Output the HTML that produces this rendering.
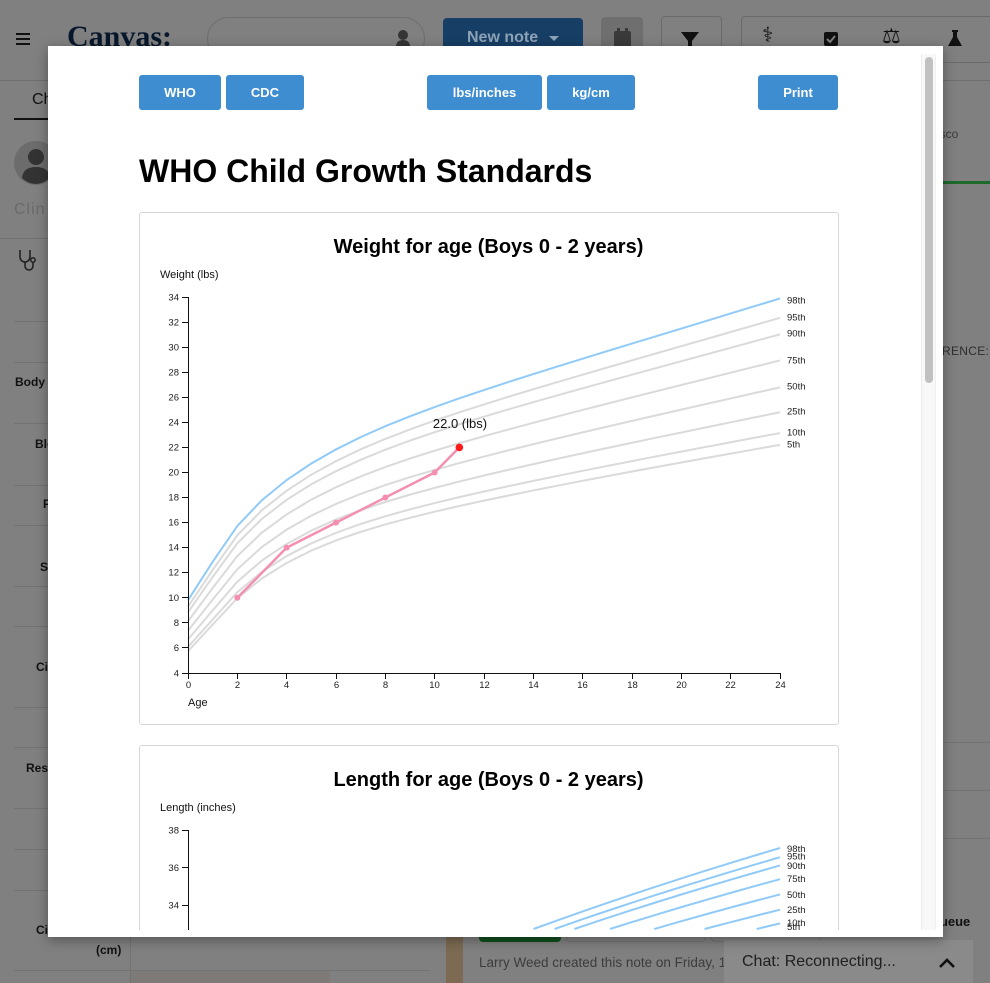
<!DOCTYPE html>
<html><head><meta charset="utf-8">
<style>
*{margin:0;padding:0;box-sizing:border-box}
html,body{width:990px;height:983px;overflow:hidden;background:#808080;font-family:"Liberation Sans",Arial,sans-serif;position:relative}
.a{position:absolute}
.rl{position:absolute;height:1px;background:#737373}
.lbl{position:absolute;font-weight:bold;font-size:12px;color:#111;white-space:nowrap}
.btn{position:absolute;top:75px;height:35px;background:#3d8dd0;color:#fff;font-weight:bold;font-size:13px;line-height:35px;text-align:center;border-radius:3px}
.card{position:absolute;left:139px;width:700px;border:1px solid #d6d6d6;border-radius:3px;background:#fff}
</style></head><body>

<!-- ===== dimmed background app ===== -->
<div class="a" style="left:16px;top:33px;width:14px;height:2px;background:#111"></div>
<div class="a" style="left:16px;top:38px;width:14px;height:2px;background:#111"></div>
<div class="a" style="left:16px;top:43px;width:14px;height:2px;background:#111"></div>
<div class="a" style="left:67px;top:22px;font-family:'Liberation Serif',serif;font-weight:bold;font-size:30px;line-height:30px;color:#08182c">Canvas:</div>

<div class="a" style="left:207px;top:17px;width:218px;height:43px;border:1px solid #6e6e6e;border-radius:22px"></div>
<svg class="a" style="left:394px;top:28px" width="20" height="20"><circle cx="9" cy="7" r="5" fill="#353535"/><path d="M2 19 Q2 12 9 12 Q16 12 16 19 Z" fill="#353535"/></svg>

<div class="a" style="left:443px;top:18px;width:140px;height:43px;background:#173f66;border-radius:4px"></div>
<div class="a" style="left:467px;top:29px;font-size:16px;font-weight:bold;color:#8ea2b8">New note</div>
<svg class="a" style="left:548px;top:35px" width="12" height="8"><path d="M1 1 L11 1 L6 6 Z" fill="#8ea2b8"/></svg>

<div class="a" style="left:601px;top:17px;width:42px;height:43px;background:#6f6f6f;border-radius:4px"></div>
<svg class="a" style="left:612px;top:27px" width="22" height="22"><rect x="2" y="4" width="17" height="17" rx="2" fill="#3a3a3a"/><rect x="5" y="1" width="3" height="5" fill="#3a3a3a"/><rect x="13" y="1" width="3" height="5" fill="#3a3a3a"/></svg>

<div class="a" style="left:661px;top:16px;width:61px;height:46px;border:1px solid #6b6b6b;border-radius:4px"></div>
<svg class="a" style="left:680px;top:30px" width="22" height="20"><path d="M1 2 L19 2 L12 11 L12 19 L8 17 L8 11 Z" fill="#111"/></svg>

<div class="a" style="left:741px;top:16px;width:249px;height:47px;border:1px solid #6b6b6b;border-right:none;border-radius:4px 0 0 4px"></div>
<div class="a" style="left:762px;top:23px;font-family:'DejaVu Sans',sans-serif;font-size:21px;color:#111">⚕</div>
<svg class="a" style="left:823px;top:31px" width="16" height="16"><rect x="1" y="1" width="14" height="14" rx="2" fill="#111"/><path d="M4 8 L7 11 L12 5" stroke="#808080" stroke-width="2" fill="none"/></svg>
<div class="a" style="left:882px;top:24px;font-family:'DejaVu Sans',sans-serif;font-size:21px;color:#111">⚖</div>
<svg class="a" style="left:946px;top:29px" width="18" height="18"><path d="M6 1 L12 1 L12 3 L11 3 L11 8 L16 17 L2 17 L7 8 L7 3 L6 3 Z" fill="#111"/></svg>

<div class="a" style="left:0;top:80px;width:990px;height:1px;background:#6f6f6f"></div>

<!-- left panel -->
<div class="a" style="left:32px;top:91px;font-size:16px;color:#111">Ch</div>
<div class="a" style="left:14px;top:118px;width:40px;height:2px;background:#111"></div>
<svg class="a" style="left:13px;top:140px" width="46" height="46"><circle cx="23" cy="23" r="22" fill="#6c6c6c"/><circle cx="23" cy="17" r="8" fill="#333"/><path d="M9 38 Q10 27 23 27 Q36 27 37 38 Q30 44 23 44 Q15 44 9 38Z" fill="#333"/></svg>
<div class="a" style="left:14px;top:201px;font-size:16px;color:#6a6a6a;letter-spacing:1px">Clin</div>
<div class="a" style="left:0;top:238px;width:48px;height:1px;background:#707070"></div>
<svg class="a" style="left:16px;top:248px" width="24" height="26"><path d="M4 2 v7 a5 5 0 0 0 10 0 v-7" stroke="#222" stroke-width="1.6" fill="none"/><path d="M9 14 v4 a4 4 0 0 0 8 0 v-4" stroke="#222" stroke-width="1.6" fill="none"/><circle cx="17" cy="12" r="2.2" stroke="#222" stroke-width="1.5" fill="none"/></svg>
<div class="rl" style="left:14px;top:321px;width:34px"></div>
<div class="rl" style="left:14px;top:362px;width:34px"></div>
<div class="rl" style="left:14px;top:423px;width:34px"></div>
<div class="rl" style="left:14px;top:485px;width:34px"></div>
<div class="rl" style="left:14px;top:525px;width:34px"></div>
<div class="rl" style="left:14px;top:586px;width:34px"></div>
<div class="rl" style="left:14px;top:626px;width:34px"></div>
<div class="rl" style="left:14px;top:707px;width:34px"></div>
<div class="rl" style="left:14px;top:747px;width:34px"></div>
<div class="rl" style="left:14px;top:808px;width:34px"></div>
<div class="rl" style="left:14px;top:849px;width:34px"></div>
<div class="rl" style="left:14px;top:890px;width:34px"></div>
<div class="rl" style="left:14px;top:970px;width:416px"></div>
<div class="a" style="left:130px;top:937px;width:1px;height:46px;background:#737373"></div>
<div class="a" style="left:131px;top:971px;width:199px;height:12px;background:#7e7a78"></div>
<div class="lbl" style="left:15px;top:375px">Body Temp</div>
<div class="lbl" style="left:35px;top:437px">Blood</div>
<div class="lbl" style="left:43px;top:497px">Pulse</div>
<div class="lbl" style="left:40px;top:560px">SpO2</div>
<div class="lbl" style="left:36px;top:660px">Circ</div>
<div class="lbl" style="left:26px;top:761px">Resp</div>
<div class="lbl" style="left:36px;top:923px">Circ</div>
<div class="lbl" style="left:96px;top:943px">(cm)</div>

<!-- right strip -->
<div class="a" style="left:937px;top:127px;font-size:12px;color:#3a3a3a">isco</div>
<div class="a" style="left:943px;top:181px;width:47px;height:3px;background:#1d6a2c"></div>
<div class="a" style="left:942px;top:344px;font-size:12px;color:#2e2e2e;letter-spacing:0.3px;width:48px;overflow:hidden;white-space:nowrap">RENCE:</div>
<div class="rl" style="left:943px;top:742px;width:47px"></div>
<div class="rl" style="left:943px;top:790px;width:47px"></div>
<div class="rl" style="left:943px;top:838px;width:47px"></div>
<div class="a" style="left:932px;top:914px;font-size:13px;font-weight:bold;color:#111">queue</div>

<!-- bottom -->
<div class="a" style="left:446px;top:937px;width:17px;height:46px;background:#7c6b52"></div>
<div class="a" style="left:479px;top:928px;width:82px;height:14px;background:#0f4f1d;border-radius:4px"></div>
<div class="a" style="left:566px;top:928px;width:140px;height:14px;border:1px solid #727272;border-radius:4px"></div>
<div class="a" style="left:711px;top:928px;width:110px;height:14px;border:1px solid #727272;border-radius:4px"></div>
<div class="a" style="left:479px;top:955px;font-size:13.5px;line-height:16px;color:#3c3c3c;white-space:nowrap">Larry Weed created this note on Friday, 1</div>
<div class="a" style="left:724px;top:940px;width:249px;height:43px;background:#8a8a8a"></div>
<div class="a" style="left:742px;top:952px;font-size:16px;line-height:19px;color:#1e1e1e;white-space:nowrap">Chat: Reconnecting...</div>
<svg class="a" style="left:938px;top:956px" width="18" height="14"><path d="M2 11 L9 4 L16 11" stroke="#111" stroke-width="2.6" fill="none"/></svg>

<!-- ===== modal ===== -->
<div class="a" style="left:48px;top:46px;width:895px;height:891px;background:#fff;box-shadow:0 3px 12px rgba(0,0,0,.35)"></div>
<div class="a" style="left:921px;top:54px;width:15px;height:876px;background:#f8f8f8;border-left:1px solid #ececec;border-right:1px solid #f0f0f0"></div>
<div class="a" style="left:925px;top:57px;width:8px;height:326px;background:#c1c1c1;border-radius:4px"></div>

<div class="a" style="left:48px;top:54px;width:873px;height:876px;overflow:hidden">
<div class="a" style="left:-48px;top:-54px;width:921px;height:930px">

<div class="btn" style="left:139px;width:82px">WHO</div>
<div class="btn" style="left:226px;width:78px">CDC</div>
<div class="btn" style="left:427px;width:115px">lbs/inches</div>
<div class="btn" style="left:547px;width:88px">kg/cm</div>
<div class="btn" style="left:758px;width:80px">Print</div>

<div class="a" style="left:139px;top:155px;font-size:32px;line-height:32px;font-weight:bold;color:#000;white-space:nowrap">WHO Child Growth Standards</div>

<div class="card" style="top:212px;height:513px"></div>
<div class="card" style="top:745px;height:185px;border-bottom:none;border-radius:3px 3px 0 0"></div>

<svg class="a" style="left:0;top:0" width="921" height="930" font-family="Liberation Sans, Arial, sans-serif">
  <!-- chart 1 -->
  <text x="488.5" y="253" text-anchor="middle" font-size="20" font-weight="bold" fill="#000">Weight for age (Boys 0 - 2 years)</text>
  <text x="160" y="278" font-size="11" fill="#111">Weight (lbs)</text>
  <g id="c1"></g>
  <g stroke="#111" stroke-width="1" fill="none">
    <path d="M182 297.5 H188.5 V673.5 H780.5 V679"/>
    <path d="M182 322.5H188M182 347.5H188M182 372.5H188M182 397.5H188M182 422.5H188M182 447.5H188M182 472.5H188M182 497.5H188M182 522.5H188M182 547.5H188M182 572.5H188M182 597.5H188M182 622.5H188M182 647.5H188M182 673.5H188"/>
    <path d="M188.5 673V679M237.5 673V679M286.5 673V679M336.5 673V679M385.5 673V679M434.5 673V679M484.5 673V679M533.5 673V679M582.5 673V679M632.5 673V679M681.5 673V679M730.5 673V679"/>
  </g>
  <g font-size="9.5" fill="#222" text-anchor="end">
    <text x="179" y="300.5">34</text><text x="179" y="325.5">32</text><text x="179" y="350.5">30</text>
    <text x="179" y="375.5">28</text><text x="179" y="400.5">26</text><text x="179" y="425.5">24</text>
    <text x="179" y="450.5">22</text><text x="179" y="475.5">20</text><text x="179" y="500.5">18</text>
    <text x="179" y="525.5">16</text><text x="179" y="550.5">14</text><text x="179" y="575.5">12</text>
    <text x="179" y="601">10</text><text x="179" y="626">8</text><text x="179" y="651">6</text><text x="179" y="676.5">4</text>
  </g>
  <g font-size="9.5" fill="#222" text-anchor="middle">
    <text x="188.5" y="688">0</text><text x="237.5" y="688">2</text><text x="286.5" y="688">4</text>
    <text x="336.5" y="688">6</text><text x="385.5" y="688">8</text><text x="434.5" y="688">10</text>
    <text x="484.5" y="688">12</text><text x="533.5" y="688">14</text><text x="582.5" y="688">16</text>
    <text x="632.5" y="688">18</text><text x="681.5" y="688">20</text><text x="730.5" y="688">22</text><text x="780.5" y="688">24</text>
  </g>
  <text x="188" y="706" font-size="11" fill="#111">Age</text>
  <g font-size="9.5" fill="#222">
    <text x="787" y="303.5">98th</text><text x="787" y="320.5">95th</text><text x="787" y="336.5">90th</text>
    <text x="787" y="363.5">75th</text><text x="787" y="389.5">50th</text><text x="787" y="414.5">25th</text>
    <text x="787" y="435.5">10th</text><text x="787" y="447.5">5th</text>
  </g>
  <g>
    <polyline points="237.33,597.8 286.67,547.67 336,522.6 385.33,497.53 434.67,472.47 459.33,447.4" fill="none" stroke="#f48fb1" stroke-width="2.5"/>
    <g fill="#f48fb1"><circle cx="237.33" cy="597.8" r="3"/><circle cx="286.67" cy="547.67" r="3"/><circle cx="336" cy="522.6" r="3"/><circle cx="385.33" cy="497.53" r="3"/><circle cx="434.67" cy="472.47" r="3"/></g>
    <circle cx="459.33" cy="447.4" r="3.8" fill="#ff1a1a"/>
    <text x="460" y="428" font-size="13" text-anchor="middle" fill="#111">22.0 (lbs)</text>
  </g>

  <!-- chart 2 -->
  <text x="488.5" y="786" text-anchor="middle" font-size="20" font-weight="bold" fill="#000">Length for age (Boys 0 - 2 years)</text>
  <text x="160" y="811" font-size="11" fill="#111">Length (inches)</text>
  <g id="c2"></g>
  <g stroke="#111" stroke-width="1" fill="none">
    <path d="M182 830.5 H188.5 V930"/>
    <path d="M182 867.5H188M182 905.5H188"/>
  </g>
  <g font-size="9.5" fill="#222" text-anchor="end">
    <text x="179" y="833.5">38</text><text x="179" y="871">36</text><text x="179" y="908.5">34</text>
  </g>
  <g font-size="9.5" fill="#222">
    <text x="787" y="852">98th</text><text x="787" y="859.5">95th</text><text x="787" y="869">90th</text>
    <text x="787" y="882">75th</text><text x="787" y="898">50th</text><text x="787" y="913">25th</text>
    <text x="787" y="926">10th</text><text x="787" y="930">5th</text>
  </g>
</svg>

</div>
</div>

<script>
(function(){
var NS='http://www.w3.org/2000/svg';
var Z=[-1.645,-1.2816,-0.6745,0,0.6745,1.2816,1.645,2.054];
var WL=[[0.3487,3.3464,0.14602],[0.2297,4.4709,0.13395],[0.197,5.5675,0.12385],[0.1738,6.3762,0.11727],[0.1553,7.0023,0.11316],[0.1395,7.5105,0.1108],[0.1257,7.934,0.10958],[0.1134,8.297,0.10902],[0.1021,8.6151,0.10882],[0.0917,8.9014,0.10881],[0.082,9.1649,0.10891],[0.073,9.4122,0.10906],[0.0644,9.6479,0.10925],[0.0563,9.8749,0.10949],[0.0487,10.0953,0.10976],[0.0413,10.3108,0.11007],[0.0343,10.5228,0.11041],[0.0275,10.7319,0.11079],[0.0211,10.9385,0.11119],[0.0148,11.143,0.11164],[0.0087,11.3462,0.11211],[0.0029,11.5486,0.11261],[-0.0028,11.7504,0.11314],[-0.0083,11.9514,0.11369],[-0.0137,12.1515,0.11426]];
var LM=[[49.8842,0.03795],[54.7244,0.03557],[58.4249,0.03424],[61.4292,0.03328],[63.886,0.03257],[65.9026,0.03204],[67.6236,0.03165],[69.1645,0.03139],[70.5994,0.03124],[71.9687,0.03117],[73.2812,0.03118],[74.5388,0.03125],[75.7488,0.03137],[76.9186,0.03154],[78.0497,0.03174],[79.1458,0.03197],[80.2113,0.03222],[81.2487,0.0325],[82.2587,0.03279],[83.2418,0.0331],[84.1996,0.03342],[85.1348,0.03376],[86.0477,0.0341],[86.941,0.03445],[87.8161,0.03479]];
function X(m){return 188+m*592/24;}
function line(g,pts,color){if(pts.length<2)return;var p=document.createElementNS(NS,'polyline');p.setAttribute('points',pts.join(' '));p.setAttribute('fill','none');p.setAttribute('stroke',color);p.setAttribute('stroke-width','2');g.appendChild(p);}
var g1=document.getElementById('c1'),g2=document.getElementById('c2');
var YMAX=929;
for(var i=0;i<8;i++){
  var a=[],raw=[];
  for(var m=0;m<=24;m++){
    var w=WL[m],L=w[0],M=w[1],S=w[2];
    var kg=M*Math.pow(1+L*S*Z[i],1/L);
    var lb=kg*2.20462;
    a.push(X(m).toFixed(2)+','+(673-(lb-4)*376/30).toFixed(2));
    var l=LM[m];
    var inch=l[0]*(1+l[1]*Z[i])/2.54;
    raw.push([X(m),830+(38-inch)*376/20]);
  }
  var b=[];
  for(var k=0;k<raw.length;k++){
    var p=raw[k];
    if(p[1]<=YMAX){
      if(b.length===0&&k>0){
        var q=raw[k-1];var t=(q[1]-YMAX)/(q[1]-p[1]);
        b.push((q[0]+(p[0]-q[0])*t).toFixed(2)+','+YMAX);
      }
      b.push(p[0].toFixed(2)+','+p[1].toFixed(2));
    }
  }
  line(g1,a,i==7?'#90caf9':'#dadada');
  line(g2,b,'#90caf9');
}
})();
</script>
</body></html>
